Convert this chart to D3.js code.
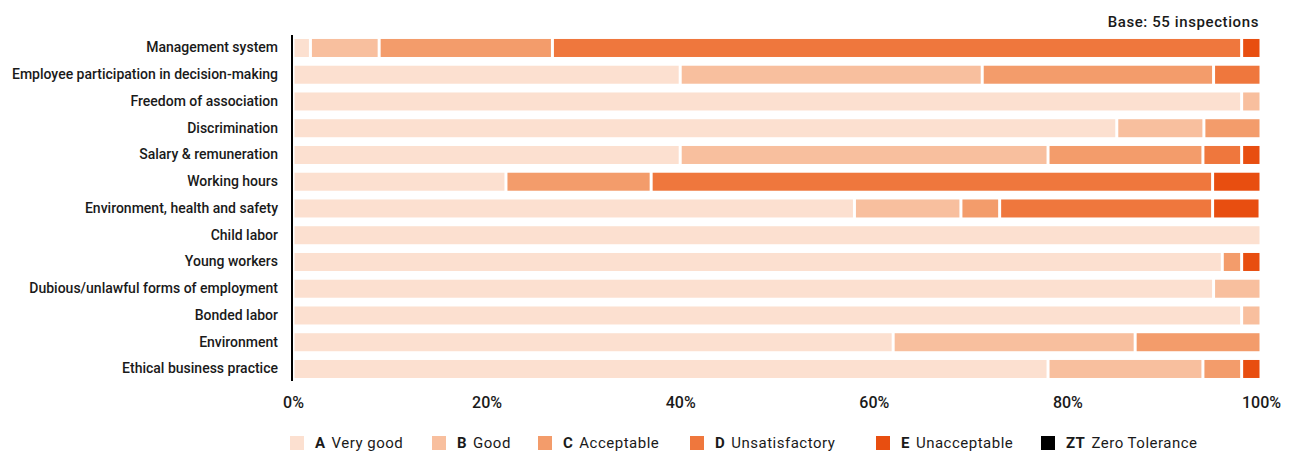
<!DOCTYPE html>
<html>
<head>
<meta charset="utf-8">
<script src="https://cdn.jsdelivr.net/npm/d3@7"></script>
<style>
  html, body { margin: 0; padding: 0; background: #fff; }
  svg { display: block; font-family: Roboto, "DejaVu Sans", sans-serif; }
</style>
</head>
<body>
<svg id="vis"></svg>
<script>
// datos (porcentaje de inspecciones, base 55)
const categories = [
    "Management system",
    "Employee participation in decision-making",
    "Freedom of association",
    "Discrimination",
    "Salary & remuneration",
    "Working hours",
    "Environment, health and safety",
    "Child labor",
    "Young workers",
    "Dubious/unlawful forms of employment",
    "Bonded labor",
    "Environment",
    "Ethical business practice"
];
const valsA  = [1.8, 40, 98, 85.1, 40, 22, 58, 100, 96, 95.1, 98, 62, 78];
const valsB  = [7.1, 31.2, 2, 9, 38, 0, 11, 0, 0, 4.9, 2, 25, 16];
const valsC  = [17.9, 23.9, 0, 5.9, 16, 15, 4, 0, 2, 0, 0, 13, 4];
const valsD  = [71.2, 4.9, 0, 0, 4, 58, 22, 0, 0, 0, 0, 0, 0];
const valsE  = [2, 0, 0, 0, 2, 5, 4.9, 0, 2, 0, 0, 0, 2];
const valsZT = [0, 0, 0, 0, 0, 0, 0, 0, 0, 0, 0, 0, 0];

const grades = ["A", "B", "C", "D", "E", "ZT"];
const gradeNames = ["Very good", "Good", "Acceptable", "Unsatisfactory", "Unacceptable", "Zero Tolerance"];
const xTicks = [0, 20, 40, 60, 80, 100];
const baseText = "Base: 55 inspections";

const colors = ["#fce0d0", "#f8bf9e", "#f39c6b", "#ef773d", "#e84e10", "#000000"];

const WIDTH = 1290;
const HEIGHT = 452;

const svg = d3.select("#vis")
    .attr("width", WIDTH)
    .attr("height", HEIGHT);

// tabla para d3.stack
const table = categories.map((c, i) => ({
    cat: c, A: valsA[i], B: valsB[i], C: valsC[i], D: valsD[i], E: valsE[i], ZT: valsZT[i]
}));
const series = d3.stack().keys(grades)(table);

const x = d3.scaleLinear().domain([0, 100]).range([293, 1261]);
const y = d3.scaleBand()
    .domain(categories)
    .range([34.6, 34.6 + 13 * 26.75])
    .paddingInner(0.327)
    .paddingOuter(0.1635);

const color = d3.scaleOrdinal().domain(grades).range(colors);

// barras apiladas
const gap = 1.5;
svg.append("g").attr("id", "barsG")
    .selectAll("g")
    .data(series)
    .join("g")
    .attr("fill", d => color(d.key))
    .selectAll("rect")
    .data(d => d.filter(s => s[1] - s[0] > 0))
    .join("rect")
    .attr("x", d => x(d[0]) + gap)
    .attr("y", d => y(d.data.cat))
    .attr("width", d => Math.max(0, x(d[1]) - x(d[0]) - 2 * gap))
    .attr("height", y.bandwidth());

// eje Y (solo la línea + etiquetas)
const ejeY = svg.append("g")
    .attr("transform", "translate(292,0)")
    .call(d3.axisLeft(y).tickSize(0).tickPadding(14));
ejeY.select(".domain").remove();
ejeY.selectAll("text")
    .attr("font-family", "Roboto, sans-serif")
    .attr("font-size", 14)
    .attr("font-weight", 500)
    .attr("fill", "#1a1a1a");

svg.append("line")
    .attr("x1", 292).attr("x2", 292)
    .attr("y1", 35).attr("y2", 381)
    .attr("stroke", "#000")
    .attr("stroke-width", 2);

// eje X
const ejeX = svg.append("g")
    .attr("transform", "translate(0,397)")
    .call(d3.axisBottom(x).tickValues(xTicks).tickSize(0).tickPadding(0).tickFormat(d => d + "%"));
ejeX.select(".domain").remove();
ejeX.selectAll("text")
    .attr("font-family", "Roboto, sans-serif")
    .attr("font-size", 16)
    .attr("font-weight", 500)
    .attr("fill", "#1a1a1a");

// base
svg.append("text")
    .attr("x", 1259)
    .attr("y", 27)
    .attr("text-anchor", "end")
    .attr("font-size", 15)
    .attr("font-weight", 500)
    .attr("letter-spacing", 0.6)
    .attr("fill", "#1a1a1a")
    .text(baseText);

// leyenda
const legendX = [290, 432, 538, 690, 876, 1041];
const legend = svg.append("g").attr("id", "legend")
    .selectAll("g")
    .data(grades)
    .join("g")
    .attr("transform", (d, i) => `translate(${legendX[i]},436)`);

legend.append("rect")
    .attr("width", 14)
    .attr("height", 14)
    .attr("fill", d => color(d));

const lt = legend.append("text")
    .attr("x", 25)
    .attr("y", 12)
    .attr("font-size", 15)
    .attr("letter-spacing", 0.5)
    .attr("fill", "#1a1a1a");
lt.append("tspan").attr("font-weight", 700).text(d => d);
lt.append("tspan").attr("dx", 6).text((d, i) => gradeNames[i]);
</script>
</body>
</html>
